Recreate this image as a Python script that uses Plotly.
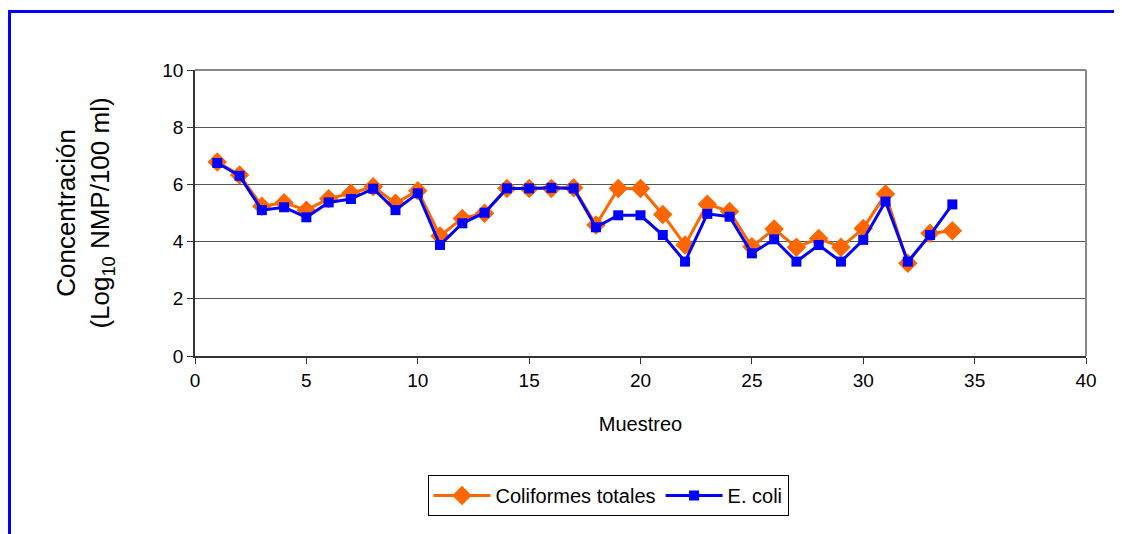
import plotly.graph_objects as go

muestreo = list(range(1, 35))
coliformes = [6.78, 6.33, 5.24, 5.36, 5.10, 5.50, 5.69, 5.92, 5.34, 5.78,
              4.20, 4.81, 4.99, 5.86, 5.86, 5.86, 5.88, 4.58, 5.86, 5.86,
              4.95, 3.88, 5.31, 5.05, 3.82, 4.44, 3.80, 4.11, 3.80, 4.46,
              5.66, 3.24, 4.29, 4.38]
ecoli = [6.75, 6.30, 5.10, 5.20, 4.85, 5.37, 5.49, 5.85, 5.10, 5.69,
         3.88, 4.64, 5.01, 5.86, 5.86, 5.88, 5.86, 4.50, 4.92, 4.92,
         4.23, 3.30, 4.97, 4.87, 3.59, 4.08, 3.30, 3.88, 3.30, 4.06,
         5.40, 3.30, 4.23, 5.30]

font = "Liberation Sans, Arial, sans-serif"

# page body has an 8px default margin; figure sized so it fits the window
W, H = 1114, 526
L, R, T, B = 187, 36, 62, 178
pw, ph = W - L - R, H - T - B

fig = go.Figure()
fig.add_trace(go.Scatter(
    x=muestreo, y=coliformes, name="Coliformes totales", mode="lines+markers",
    line=dict(color="#FF6600", width=3),
    marker=dict(symbol="diamond", size=15, color="#FF6600"),
))
fig.add_trace(go.Scatter(
    x=muestreo, y=ecoli, name="E. coli", mode="lines+markers",
    line=dict(color="#0000FF", width=3),
    marker=dict(symbol="square", size=10, color="#0000FF"),
))

fig.update_layout(
    width=W, height=H,
    margin=dict(l=L, r=R, t=T, b=B),
    paper_bgcolor="white", plot_bgcolor="white",
    font=dict(family=font, size=19, color="black"),
    showlegend=True,
    legend=dict(
        orientation="h", x=(600 - L) / pw, xanchor="center",
        y=(ph - (467 - T)) / ph, yanchor="top",
        bordercolor="black", borderwidth=1, bgcolor="white",
        font=dict(family=font, size=20, color="black"),
        itemwidth=57, tracegroupgap=0,
    ),
    xaxis=dict(
        range=[0, 40], tickvals=[0, 5, 10, 15, 20, 25, 30, 35, 40],
        showgrid=False, zeroline=False,
        showline=True, linecolor="#333333", linewidth=1.5,
        ticks="outside", ticklen=6, tickcolor="#333333",
        tickfont=dict(family=font, size=19),
        title=dict(text="Muestreo", font=dict(family=font, size=20), standoff=27),
    ),
    yaxis=dict(
        range=[0, 10], tickvals=[0, 2, 4, 6, 8, 10],
        showgrid=True, gridcolor="#555555", gridwidth=1,
        zeroline=False,
        showline=True, linecolor="#333333", linewidth=1.5,
        ticks="outside", ticklen=6, tickcolor="#333333",
        tickfont=dict(family=font, size=19),
        title=dict(text="Concentración<br>(Log<sub>10</sub> NMP/100 ml)",
                   font=dict(family=font, size=26), standoff=45),
    ),
    shapes=[
        dict(type="line", xref="paper", yref="paper", x0=0, x1=1, y0=1, y1=1,
             line=dict(color="#888888", width=2)),
        dict(type="line", xref="paper", yref="paper", x0=1, x1=1, y0=0, y1=1,
             line=dict(color="#888888", width=2)),
        dict(type="rect", xref="paper", yref="paper",
             x0=(1.5 - L) / pw, x1=1.3, y0=-1.5, y1=(ph + T - 3.5) / ph,
             line=dict(color="#0000FF", width=3), fillcolor="rgba(0,0,0,0)",
             layer="below"),
    ],
)

fig.write_html("out.html")
